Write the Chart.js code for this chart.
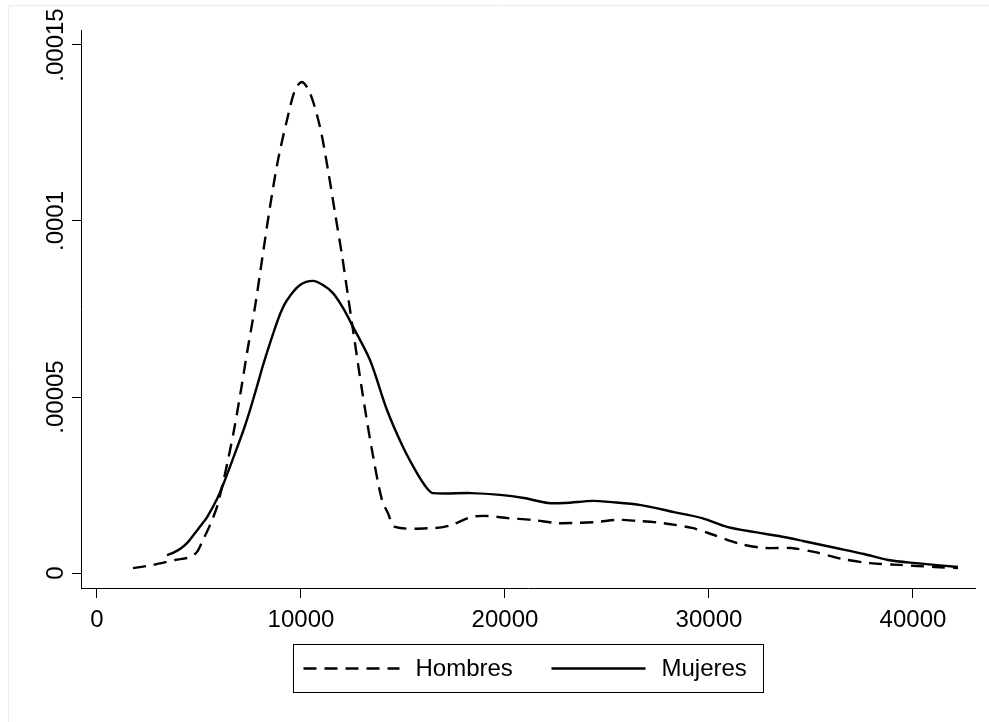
<!DOCTYPE html>
<html>
<head>
<meta charset="utf-8">
<title>Densidad de ingresos: Hombres y Mujeres</title>
<script src="https://cdn.jsdelivr.net/npm/chart.js@4.4.0/dist/chart.umd.min.js"></script>
<style>
  html, body { margin: 0; padding: 0; background: #fff; }
  #wrap { width: 989px; height: 722px; }
</style>
</head>
<body>
<div id="wrap"><canvas id="density" width="989" height="722"></canvas></div>
<script>
// kernel density, men (dashed)
const hombresX = [1765, 2745, 3824, 4559, 4902, 5196, 5539, 5882, 6127, 6422,
  6716, 7059, 7353, 7745, 8088, 8480, 8873, 9314, 9706, 10049,
  10441, 10931, 11324, 11667, 12010, 12304, 12500, 12990, 13480, 13971,
  14265, 14608, 16569, 17353, 18333, 19167, 20147, 21324, 22500, 23333,
  24510, 25490, 26471, 27696, 29167, 30245, 31569, 32745, 34020, 35147,
  36520, 37892, 39314, 41078, 42206]
const hombresY = [0.0000014, 0.0000023, 0.0000037, 0.0000045, 0.0000060, 0.0000094, 0.0000136, 0.0000188, 0.0000244, 0.0000321,
  0.0000406, 0.0000520, 0.0000625, 0.0000756, 0.0000889, 0.0001040, 0.0001173, 0.0001287, 0.0001372, 0.0001395,
  0.0001364, 0.0001267, 0.0001145, 0.0001023, 0.0000903, 0.0000787, 0.0000710, 0.0000520, 0.0000349, 0.0000207,
  0.0000170, 0.0000131, 0.0000128, 0.0000136, 0.0000159, 0.0000162, 0.0000156, 0.0000151, 0.0000142, 0.0000142,
  0.0000145, 0.0000151, 0.0000148, 0.0000142, 0.0000128, 0.0000108, 0.0000082, 0.0000071, 0.0000071, 0.0000060,
  0.0000040, 0.0000028, 0.0000023, 0.0000017, 0.0000014]

// kernel density, women (solid)
const mujeresX = [3431, 3750, 4069, 4400, 4706, 5050, 5392, 5882, 6176, 6667,
  7157, 7500, 7843, 8137, 8578, 8971, 9314, 9951, 10588, 11078,
  11569, 12059, 12500, 13382, 14216, 15000, 15686, 16176, 16471, 18333,
  19755, 20931, 22108, 22941, 24314, 25098, 26667, 28284, 29657, 30882,
  32255, 33431, 34608, 36225, 37598, 38775, 40147, 42206]
const mujeresY = [0.0000051, 0.0000058, 0.0000068, 0.0000084, 0.0000106, 0.0000132, 0.0000158, 0.0000210, 0.0000250, 0.0000325,
  0.0000402, 0.0000463, 0.0000530, 0.0000590, 0.0000670, 0.0000735, 0.0000775, 0.0000818, 0.0000830, 0.0000818,
  0.0000795, 0.0000753, 0.0000705, 0.0000605, 0.0000463, 0.0000358, 0.0000284, 0.0000241, 0.0000227, 0.0000227,
  0.0000222, 0.0000213, 0.0000199, 0.0000199, 0.0000205, 0.0000202, 0.0000193, 0.0000173, 0.0000156, 0.0000131,
  0.0000116, 0.0000105, 0.0000091, 0.0000071, 0.0000054, 0.0000037, 0.0000028, 0.0000017]

const seriesLabels = ['Hombres', 'Mujeres']
const xTicks = [0, 10000, 20000, 30000, 40000]
const yTicks = [0, 0.00005, 0.0001, 0.00015]
const yTickLabels = ['0', '.00005', '.0001', '.00015']

const toPoints = (xs, ys) => xs.map((x, i) => ({ x, y: ys[i] }))

Chart.defaults.font.family = '"Liberation Sans", Arial, sans-serif'
Chart.defaults.font.size = 24
Chart.defaults.color = '#000'

// white page with the faint outer frame
const pageFrame = {
  id: 'pageFrame',
  beforeDraw(chart) {
    const { ctx, width, height } = chart
    ctx.save()
    ctx.fillStyle = '#fff'
    ctx.fillRect(0, 0, width, height)
    ctx.strokeStyle = '#ececec'
    ctx.lineWidth = 1
    ctx.beginPath()
    ctx.moveTo(8.5, height)
    ctx.lineTo(8.5, 5.5)
    ctx.lineTo(width, 5.5)
    ctx.stroke()
    ctx.restore()
  }
}

// boxed legend under the x axis
const legendBox = {
  id: 'legendBox',
  afterDraw(chart) {
    const { ctx, chartArea } = chart
    const w = 470, h = 48
    const left = Math.round((chartArea.left + chartArea.right) / 2 - w / 2) + 0.5
    const top = chartArea.bottom + 56.5
    const mid = top + h / 2
    const slots = [
      { lineFrom: 10, lineTo: 106, text: 122 },
      { lineFrom: 258, lineTo: 352, text: 368 }
    ]
    ctx.save()
    ctx.strokeStyle = '#000'
    ctx.lineWidth = 1
    ctx.strokeRect(left, top, w, h)
    ctx.font = '24px "Liberation Sans", Arial, sans-serif'
    ctx.fillStyle = '#000'
    ctx.textBaseline = 'middle'
    chart.data.datasets.forEach((ds, i) => {
      const s = slots[i]
      ctx.beginPath()
      ctx.lineWidth = 2.4
      ctx.setLineDash(ds.borderDash || [])
      ctx.moveTo(left + s.lineFrom, mid)
      ctx.lineTo(left + s.lineTo, mid)
      ctx.stroke()
      ctx.setLineDash([])
      ctx.fillText(ds.label, left + s.text, mid + 1)
    })
    ctx.restore()
  }
}

new Chart(document.getElementById('density'), {
  type: 'line',
  data: {
    datasets: [{
      label: seriesLabels[0],
      data: toPoints(hombresX, hombresY),
      borderColor: '#000',
      borderWidth: 2.4,
      borderDash: [13, 8],
      pointRadius: 0,
      tension: 0.3,
      fill: false
    }, {
      label: seriesLabels[1],
      data: toPoints(mujeresX, mujeresY),
      borderColor: '#000',
      borderWidth: 2.4,
      pointRadius: 0,
      tension: 0.3,
      fill: false
    }]
  },
  options: {
    responsive: false,
    animation: false,
    devicePixelRatio: 1,
    layout: { padding: { top: 30, right: 14, left: 0, bottom: 0 } },
    plugins: {
      legend: { display: false },
      tooltip: { enabled: false }
    },
    scales: {
      x: {
        type: 'linear',
        min: -784,
        max: 43040,
        afterBuildTicks: scale => { scale.ticks = xTicks.map(v => ({ value: v })) },
        afterFit: scale => { scale.height = 134 },
        grid: { drawOnChartArea: false, tickLength: 10, color: '#000' },
        border: { color: '#000', width: 1 },
        ticks: {
          color: '#000',
          padding: 8,
          maxRotation: 0,
          callback: v => String(v)
        }
      },
      y: {
        type: 'linear',
        min: -0.00000426,
        max: 0.00015426,
        afterBuildTicks: scale => { scale.ticks = yTicks.map(v => ({ value: v })) },
        afterFit: scale => { scale.width = 81 },
        grid: { drawOnChartArea: false, tickLength: 9, color: '#000' },
        border: { color: '#000', width: 1 },
        ticks: {
          color: '#000',
          minRotation: 90,
          maxRotation: 90,
          crossAlign: 'center',
          padding: -21,
          callback: (v, i) => yTickLabels[i]
        }
      }
    }
  },
  plugins: [pageFrame, legendBox]
})
</script>
</body>
</html>
